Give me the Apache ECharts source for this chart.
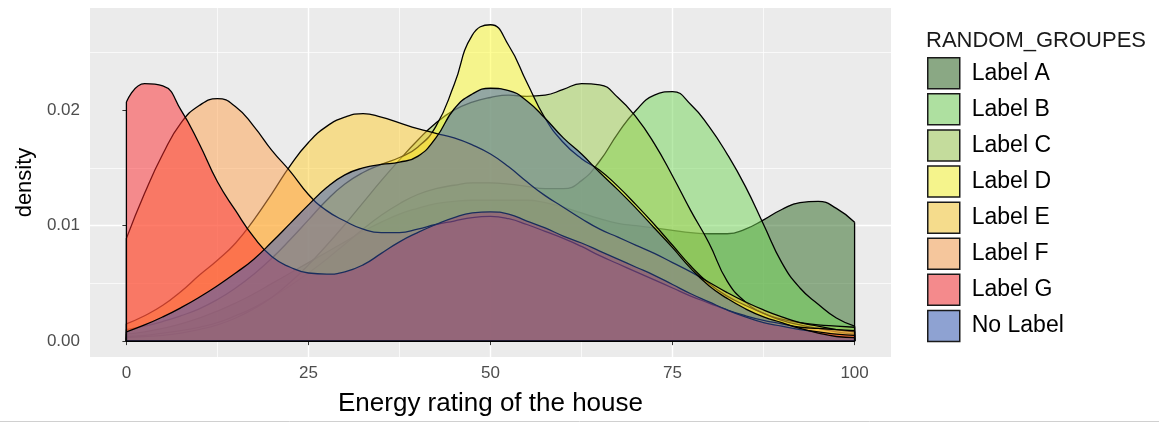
<!DOCTYPE html>
<html>
<head>
<meta charset="utf-8">
<script src="https://cdn.jsdelivr.net/npm/echarts@6/dist/echarts.min.js"></script>
<style>
html,body{margin:0;padding:0;background:#fff}
#chart{width:1159px;height:423px}
</style>
</head>
<body>
<div id="chart"></div>
<script>
// energy rating grid (x) and density estimates
var energy = [0,2.5,5,7.5,10,12.5,15,17.5,20,22.5,25,27.5,30,32.5,35,37.5,40,42.5,45,47.5,50,
              52.5,55,57.5,60,62.5,65,67.5,70,72.5,75,77.5,80,82.5,85,87.5,90,92.5,95,97.5,100];

var labelA = [0.0006,0.0008,0.0011,0.0015,0.0020,0.0026,0.0033,0.0041,0.0050,0.0059,0.0068,0.0077,0.0086,0.0095,0.0103,0.0110,0.0115,0.0119,0.0121,0.0122,0.0122,
              0.0122,0.0122,0.0120,0.0116,0.0111,0.0106,0.0102,0.0100,0.0098,0.0096,0.0094,0.0093,0.0093,0.0097,0.0105,0.0114,0.0120,0.0121,0.0115,0.0103];
var labelB = [0.0004,0.0005,0.0007,0.0009,0.0012,0.0016,0.0022,0.0029,0.0038,0.0048,0.0059,0.0071,0.0084,0.0097,0.0109,0.0119,0.0127,0.0132,0.0135,0.0137,0.0137,
              0.0136,0.0134,0.0132,0.0132,0.0139,0.0156,0.0180,0.0200,0.0213,0.0216,0.0205,0.0186,0.0162,0.0134,0.0101,0.0068,0.0046,0.0032,0.0020,0.0013];
var labelC = [0.0003,0.0004,0.0005,0.0007,0.0010,0.0014,0.0020,0.0028,0.0038,0.0051,0.0066,0.0083,0.0101,0.0120,0.0139,0.0157,0.0174,0.0189,0.0200,0.0207,0.0211,
              0.0213,0.0212,0.0213,0.0218,0.0223,0.0222,0.0211,0.0194,0.0171,0.0143,0.0113,0.0085,0.0052,0.0034,0.0024,0.0019,0.0016,0.0014,0.0013,0.0012];
var labelD = [0.0010,0.0013,0.0017,0.0022,0.0028,0.0036,0.0046,0.0058,0.0072,0.0088,0.0105,0.0122,0.0136,0.0146,0.0153,0.0159,0.0168,0.0186,0.0222,0.0265,0.0274,
              0.0256,0.0224,0.0193,0.0172,0.0158,0.0148,0.0134,0.0118,0.0101,0.0083,0.0065,0.0050,0.0039,0.0031,0.0024,0.0018,0.0014,0.0011,0.0008,0.0006];
var labelE = [0.0015,0.0022,0.0031,0.0043,0.0057,0.0070,0.0085,0.0105,0.0128,0.0152,0.0172,0.0186,0.0194,0.0197,0.0194,0.0189,0.0184,0.0180,0.0176,0.0170,0.0162,
              0.0151,0.0138,0.0126,0.0116,0.0106,0.0097,0.0090,0.0083,0.0076,0.0068,0.0060,0.0051,0.0042,0.0034,0.0027,0.0021,0.0016,0.0013,0.0010,0.0008];
var labelF = [0.0089,0.0128,0.0162,0.0189,0.0204,0.0210,0.0203,0.0186,0.0165,0.0147,0.0127,0.0113,0.0104,0.0097,0.0094,0.0094,0.0097,0.0101,0.0104,0.0107,0.0108,
              0.0106,0.0101,0.0095,0.0089,0.0082,0.0074,0.0067,0.0060,0.0053,0.0046,0.0039,0.0033,0.0027,0.0022,0.0018,0.0015,0.0012,0.0011,0.0010,0.0009];
var labelG = [0.0207,0.0223,0.0221,0.0200,0.0171,0.0138,0.0113,0.0090,0.0073,0.0064,0.0059,0.0058,0.0060,0.0066,0.0076,0.0086,0.0094,0.0101,0.0107,0.0111,0.0112,
              0.0110,0.0104,0.0098,0.0091,0.0085,0.0078,0.0071,0.0064,0.0057,0.0049,0.0041,0.0034,0.0027,0.0021,0.0016,0.0013,0.0010,0.0008,0.0006,0.0005];
var noLabel = [0.0008,0.0014,0.0021,0.0029,0.0038,0.0048,0.0059,0.0071,0.0086,0.0102,0.0118,0.0133,0.0144,0.0150,0.0153,0.0155,0.0160,0.0176,0.0201,0.0214,0.0219,
              0.0217,0.0208,0.0193,0.0176,0.0162,0.0146,0.0131,0.0115,0.0098,0.0081,0.0063,0.0048,0.0037,0.0028,0.0021,0.0016,0.0011,0.0007,0.0004,0.0003];

var groups = ['Label A','Label B','Label C','Label D','Label E','Label F','Label G','No Label'];
var values = [labelA, labelB, labelC, labelD, labelE, labelF, labelG, noLabel];
var fills  = ['#29651d','#71d555','#9dcd4d','#fffd2d','#ffcd2d','#ffa14d','#fd292d','#3159b9'];

var xTicks = [0, 25, 50, 75, 100];
var yTicks = [0, 0.01, 0.02];

var FONT = '"Liberation Sans", Arial, Helvetica, sans-serif';
var PANEL = '#EBEBEB';

// colour of a 50% fill over the panel grey (for legend keys)
function blend(hex){
	var c=[1,3,5].map(function(k){return parseInt(hex.substr(k,2),16);});
	var b=235;
	return 'rgb('+c.map(function(v){return Math.round(v*0.5+b*0.5);}).join(',')+')';
}

var chart = echarts.init(document.getElementById('chart'));

var series=[];
groups.forEach(function(name,i){
	var ys=values[i];
	var last=energy.length-1;
	// each group gets its own z so later fills tint earlier outlines (like ggplot)
	series.push({
		name:name,
		type:'line',
		z:2+i,
		smooth:0.5,
		symbol:'none',
		showSymbol:false,
		xAxisIndex:0,
		yAxisIndex:0,
		silent:true,
		data:energy.map(function(x,j){return [x,ys[j]];}),
		itemStyle:{color:fills[i]},
		lineStyle:{color:'#000',width:1.3},
		areaStyle:{color:fills[i],opacity:0.5}
	});
	// closing edges of the density polygon (left side, baseline, right side)
	series.push({
		name:name,
		type:'line',
		z:2+i,
		symbol:'none',
		showSymbol:false,
		xAxisIndex:0,
		yAxisIndex:0,
		silent:true,
		data:[[energy[0],ys[0]],[energy[0],0],[energy[last],0],[energy[last],ys[last]]],
		lineStyle:{color:'#000',width:1.3}
	});
});

var option = {
	backgroundColor:'#ffffff',
	animation:false,
	title:{
		text:'RANDOM_GROUPES',
		left:926,
		top:30,
		padding:0,
		textStyle:{fontFamily:FONT,fontSize:22,fontWeight:'normal',color:'#1a1a1a'}
	},
	legend:{
		orient:'vertical',
		left:927,
		top:57,
		padding:0,
		icon:'rect',
		itemWidth:32,
		itemHeight:31,
		itemGap:3.6,
		selectedMode:false,
		textStyle:{fontFamily:FONT,fontSize:23,color:'#000',padding:[0,0,0,7]},
		data:groups.map(function(g,i){
			return {name:g,itemStyle:{color:blend(fills[i]),borderColor:'#1a1a1a',borderWidth:1.5}};
		})
	},
	grid:{
		left:90,
		top:8,
		width:801,
		height:349,
		show:true,
		backgroundColor:PANEL,
		borderWidth:0
	},
	xAxis:[{
		type:'value',
		min:-5,
		max:105,
		minInterval:25,
		maxInterval:25,
		name:'Energy rating of the house',
		nameLocation:'middle',
		nameGap:34,
		nameTextStyle:{fontFamily:FONT,fontSize:26,color:'#000'},
		axisLine:{show:false},
		axisTick:{show:true,length:4,lineStyle:{color:'#333',width:1},customValues:xTicks},
		axisLabel:{fontFamily:FONT,fontSize:17,color:'#4D4D4D',margin:8,customValues:xTicks,
			formatter:function(v){return xTicks.indexOf(v)>=0?String(v):'';}},
		splitLine:{show:true,showMinLine:false,showMaxLine:false,lineStyle:{color:'#fff',width:1.4}}
	},{
		// minor grid lines (offset by half a step)
		type:'value',
		position:'top',
		min:7.5,
		max:117.5,
		minInterval:25,
		maxInterval:25,
		axisLine:{show:false},
		axisTick:{show:false},
		axisLabel:{show:false},
		splitLine:{show:true,showMinLine:false,showMaxLine:false,lineStyle:{color:'#fff',width:0.7}}
	}],
	yAxis:[{
		type:'value',
		min:-0.001375,
		max:0.02885,
		minInterval:0.01,
		maxInterval:0.01,
		name:'density',
		nameLocation:'middle',
		nameGap:54,
		nameTextStyle:{fontFamily:FONT,fontSize:22,color:'#000'},
		axisLine:{show:false},
		axisTick:{show:true,length:4,lineStyle:{color:'#333',width:1},customValues:yTicks},
		axisLabel:{fontFamily:FONT,fontSize:17,color:'#4D4D4D',margin:10,customValues:yTicks,
			formatter:function(v){return v.toFixed(2);}},
		splitLine:{show:true,showMinLine:false,showMaxLine:false,lineStyle:{color:'#fff',width:1.4}}
	},{
		type:'value',
		position:'right',
		min:0.003625,
		max:0.03385,
		minInterval:0.01,
		maxInterval:0.01,
		axisLine:{show:false},
		axisTick:{show:false},
		axisLabel:{show:false},
		splitLine:{show:true,showMinLine:false,showMaxLine:false,lineStyle:{color:'#fff',width:0.7}}
	}],
	graphic:[{
		type:'line',
		shape:{x1:0,y1:421.5,x2:1159,y2:421.5},
		style:{stroke:'#d0d0d0',lineWidth:1},
		silent:true
	}],
	series:series
};
chart.setOption(option);
</script>
</body>
</html>
